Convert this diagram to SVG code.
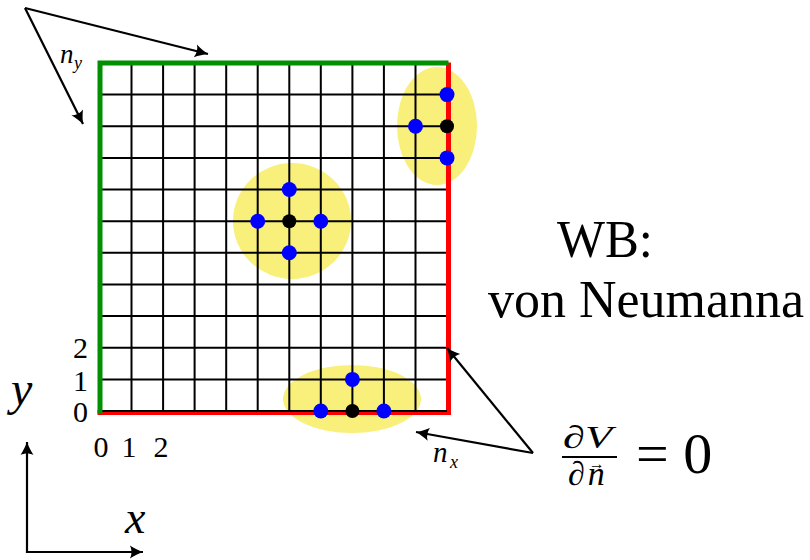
<svg xmlns="http://www.w3.org/2000/svg" width="810" height="560" viewBox="0 0 810 560">
<style>
.grid{stroke:#000;stroke-width:2;fill:none}
.hl{fill:#f8f07a}
.blue{fill:#0000ff}
.blk{fill:#000}
.green{stroke:#009000;stroke-width:5;fill:none;stroke-linecap:square}
.red{stroke:#ff0000;stroke-width:5;fill:none;stroke-linecap:square}
.arr{stroke:#000;stroke-width:2.2;fill:none}
</style>
<defs>
<marker id="ah" viewBox="-14 -7 15 14" refX="0" refY="0" markerWidth="15" markerHeight="14" markerUnits="userSpaceOnUse" orient="auto-start-reverse">
<path d="M0,0 C-4,-1.5 -9,-3.8 -13,-6.5 C-11,-2.5 -11,2.5 -13,6.5 C-9,3.8 -4,1.5 0,0 Z" fill="#000"/>
</marker>
</defs>
<g id="highlights">
<ellipse class="hl" cx="292" cy="221" rx="59" ry="58"/>
<ellipse class="hl" cx="437" cy="126" rx="40" ry="59"/>
<ellipse class="hl" cx="352" cy="399" rx="69" ry="34"/>
</g>
<g id="grid">
<path class="grid" d="M131.5,63V411M163.1,63V411M194.6,63V411M226.2,63V411M257.7,63V411M289.3,63V411M320.8,63V411M352.4,63V411M383.9,63V411M415.5,63V411M447,63V411M100,94.6H447M100,126.3H447M100,157.9H447M100,189.5H447M100,221.2H447M100,252.8H447M100,284.5H447M100,316.1H447M100,347.7H447M100,379.4H447M100,411H447"/>
<path class="red" d="M448.5,65V412.5H100"/>
<path class="grid" d="M100,411H447"/>
<path class="green" d="M100,411V63H446"/>
</g>
<g id="stencil-center">
<circle class="blk" cx="289.3" cy="221.2" r="7"/>
<circle class="blue" cx="257.7" cy="221.2" r="7.5"/>
<circle class="blue" cx="320.8" cy="221.2" r="7.5"/>
<circle class="blue" cx="289.3" cy="189.5" r="7.5"/>
<circle class="blue" cx="289.3" cy="252.8" r="7.5"/>
</g>
<g id="stencil-right">
<circle class="blk" cx="447" cy="126.3" r="7"/>
<circle class="blue" cx="447" cy="94.6" r="7.5"/>
<circle class="blue" cx="415.5" cy="126.3" r="7.5"/>
<circle class="blue" cx="447" cy="157.9" r="7.5"/>
</g>
<g id="stencil-bottom">
<circle class="blk" cx="352.4" cy="411" r="7"/>
<circle class="blue" cx="320.8" cy="411" r="7.5"/>
<circle class="blue" cx="383.9" cy="411" r="7.5"/>
<circle class="blue" cx="352.4" cy="379.4" r="7.5"/>
</g>
<g id="connectors">
<path class="arr" d="M25,8L208,54" marker-end="url(#ah)"/>
<path class="arr" d="M25,8L83,124" marker-end="url(#ah)"/>
<path class="arr" d="M533,453L447,348" marker-end="url(#ah)"/>
<path class="arr" d="M533,453L416,432" marker-end="url(#ah)"/>
<path class="arr" d="M27,442V552H143" marker-start="url(#ah)" marker-end="url(#ah)"/>
</g>
<g id="labels" fill="#000">
<text x="60" y="63" font-size="27" font-family="Liberation Serif" font-style="italic">n</text>
<text x="74" y="69" font-size="18" font-family="Liberation Serif" font-style="italic">y</text>
<text x="433" y="462" font-size="29" font-family="Liberation Serif" font-style="italic">n</text>
<text x="450" y="468" font-size="18" font-family="Liberation Serif" font-style="italic">x</text>
<text x="88" y="358" font-size="30" font-family="Liberation Serif" text-anchor="end">2</text>
<text x="88" y="391" font-size="30" font-family="Liberation Serif" text-anchor="end">1</text>
<text x="88" y="422" font-size="30" font-family="Liberation Serif" text-anchor="end">0</text>
<text x="101" y="457" font-size="30" font-family="Liberation Serif" text-anchor="middle">0</text>
<text x="129" y="457" font-size="30" font-family="Liberation Serif" text-anchor="middle">1</text>
<text x="161" y="457" font-size="30" font-family="Liberation Serif" text-anchor="middle">2</text>
<text x="11" y="405" font-size="48" font-family="Liberation Serif" font-style="italic">y</text>
<text x="125" y="533" font-size="46" font-family="Liberation Serif" font-style="italic">x</text>
<text x="557" y="257" font-size="52" font-family="Liberation Serif" textLength="96" lengthAdjust="spacingAndGlyphs">WB:</text>
<text x="488" y="317" font-size="52" font-family="Liberation Serif" textLength="316" lengthAdjust="spacingAndGlyphs">von Neumanna</text>
<text x="563" y="448" font-size="32" font-family="Liberation Serif" font-style="italic" textLength="49" lengthAdjust="spacingAndGlyphs">∂V</text>
<path d="M562,457H617" stroke="#000" stroke-width="2"/>
<text x="568" y="485" font-size="34" font-family="Liberation Serif" font-style="italic" letter-spacing="3">∂n<tspan dx="-19" dy="-16" font-size="16" font-style="normal" letter-spacing="0">→</tspan></text>
<text x="636" y="473" font-size="58" font-family="Liberation Serif">= 0</text>
</g>
</svg>
